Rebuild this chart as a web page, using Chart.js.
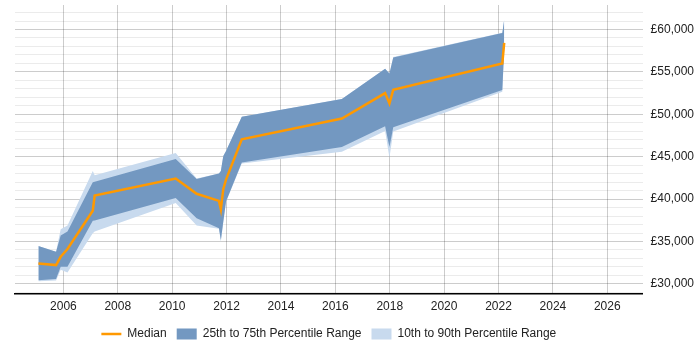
<!DOCTYPE html>
<html>
<head>
<meta charset="utf-8">
<script src="https://cdn.jsdelivr.net/npm/chart.js@4/dist/chart.umd.min.js"></script>
<style>
  html, body { margin: 0; padding: 0; background: #fff; }
  #wrap { width: 700px; height: 350px; }
</style>
</head>
<body>
<div id="wrap"><canvas id="salaryChart"></canvas></div>
<script>
// decimal years of each sample point
const years = [2005.08, 2005.73, 2005.90, 2006.15, 2007.08, 2007.15, 2010.13, 2010.90,
    2011.72, 2011.79, 2011.88, 2011.98, 2012.56, 2016.24, 2017.83, 2017.99, 2018.13,
    2022.14, 2022.21];
const median = [32410, 32220, 33200, 34120, 38630, 40410, 42430, 40625,
    39790, 38785, 41200, 42300, 47060, 49505, 52500, 51290, 52880,
    56000, 58430];
const p25 = [30440, 30590, 32020, 32020, 37440, 37480, 40130, 37750,
    36560, 35190, 37360, 39730, 44330, 46150, 48580, 46150, 48460,
    52880, 57780];
const p75 = [34475, 33800, 35700, 36170, 41990, 42050, 44720, 42380,
    43020, 43300, 45080, 45670, 49710, 51810, 55370, 54810, 56710,
    59600, 61160];
const p10 = [30300, 30400, 31660, 31340, 35970, 36170, 39530, 36890,
    36490, 34990, 37300, 39700, 44200, 45590, 48045, 44875, 47960,
    52670, 57500];
const p90 = [34475, 33800, 36450, 36890, 43300, 42820, 45430, 42430,
    43020, 43300, 45080, 45670, 49710, 51810, 55370, 54810, 56750,
    59620, 61250];

const xTicks = [2006, 2008, 2010, 2012, 2014, 2016, 2018, 2020, 2022, 2024, 2026];
// gridlines every £1,000, labelled every £5,000
const yTicks = [29000, 30000, 31000, 32000, 33000, 34000, 35000, 36000, 37000, 38000,
    39000, 40000, 41000, 42000, 43000, 44000, 45000, 46000, 47000, 48000, 49000,
    50000, 51000, 52000, 53000, 54000, 55000, 56000, 57000, 58000, 59000, 60000,
    61000, 62000];

const orange = '#ff9900';
const darkBand = '#7398c1';
const lightBand = '#c8daee';
const font = { family: 'Liberation Sans, Arial, sans-serif', size: 12 };

const toPoints = vals => vals.map((v, i) => ({ x: years[i], y: v }));

const bandStyle = {
    borderWidth: 0,
    pointRadius: 0,
    pointHoverRadius: 0,
    tension: 0,
};

// keep the legend centred under the plot area rather than the whole canvas
const centreLegend = {
    id: 'centreLegend',
    afterLayout(chart) {
        const lg = chart.legend;
        if (!lg) return;
        lg.left = chart.chartArea.left;
        lg.right = chart.chartArea.right;
    },
};

const ctx = document.getElementById('salaryChart');

new Chart(ctx, {
    type: 'line',
    plugins: [centreLegend],
    data: {
        datasets: [
            {
                label: 'Median',
                data: toPoints(median),
                borderColor: orange,
                backgroundColor: orange,
                borderWidth: 2.5,
                pointRadius: 0,
                tension: 0,
                fill: false,
            },
            {
                label: '25th to 75th Percentile Range',
                data: toPoints(p75),
                backgroundColor: darkBand,
                borderColor: darkBand,
                fill: '+1',
                ...bandStyle,
            },
            {
                label: 'p25',
                data: toPoints(p25),
                backgroundColor: darkBand,
                borderColor: darkBand,
                fill: false,
                ...bandStyle,
            },
            {
                label: '10th to 90th Percentile Range',
                data: toPoints(p90),
                backgroundColor: lightBand,
                borderColor: lightBand,
                fill: '+1',
                ...bandStyle,
            },
            {
                label: 'p10',
                data: toPoints(p10),
                backgroundColor: lightBand,
                borderColor: lightBand,
                fill: false,
                ...bandStyle,
            },
        ],
    },
    options: {
        responsive: true,
        maintainAspectRatio: false,
        animation: false,
        layout: {
            padding: { left: 15, right: -2, top: 5, bottom: 0 },
        },
        plugins: {
            tooltip: { enabled: false },
            legend: {
                display: true,
                position: 'bottom',
                labels: {
                    font: font,
                    color: '#222',
                    usePointStyle: true,
                    pointStyleWidth: 20,
                    boxHeight: 11,
                    padding: 10,
                    generateLabels: () => [
                        { text: 'Median', fillStyle: orange, strokeStyle: orange, lineWidth: 2.5, pointStyle: 'line', datasetIndex: 0, fontColor: '#222' },
                        { text: '25th to 75th Percentile Range', fillStyle: darkBand, strokeStyle: darkBand, lineWidth: 0, pointStyle: 'rect', datasetIndex: 1, fontColor: '#222' },
                        { text: '10th to 90th Percentile Range', fillStyle: lightBand, strokeStyle: lightBand, lineWidth: 0, pointStyle: 'rect', datasetIndex: 3, fontColor: '#222' },
                    ],
                },
            },
        },
        scales: {
            x: {
                type: 'linear',
                min: 2004.22,
                max: 2027.3,
                afterBuildTicks: scale => {
                    scale.ticks = xTicks.map(v => ({ value: v }));
                },
                afterFit: scale => {
                    scale.height = 24;
                },
                grid: {
                    color: 'rgba(0,0,0,0.2)',
                    drawTicks: false,
                },
                border: { display: true, color: '#000', width: 1.5 },
                ticks: {
                    padding: 5,
                    color: '#222',
                    font: font,
                    callback: v => String(v),
                },
            },
            y: {
                position: 'right',
                min: 28810,
                max: 62890,
                afterBuildTicks: scale => {
                    scale.ticks = yTicks.map(v => ({ value: v }));
                },
                afterFit: scale => {
                    scale.paddingTop = 0;
                    scale.paddingBottom = 0;
                },
                grid: {
                    drawTicks: false,
                    color: c => (c.tick && c.tick.value % 5000 === 0 ? 'rgba(0,0,0,0.2)' : 'rgba(0,0,0,0.08)'),
                },
                border: { display: false },
                ticks: {
                    autoSkip: false,
                    padding: 8,
                    color: '#222',
                    font: font,
                    callback: v => (v % 5000 === 0 ? '£' + v.toLocaleString('en-GB') : ''),
                },
            },
        },
    },
});
</script>
</body>
</html>
